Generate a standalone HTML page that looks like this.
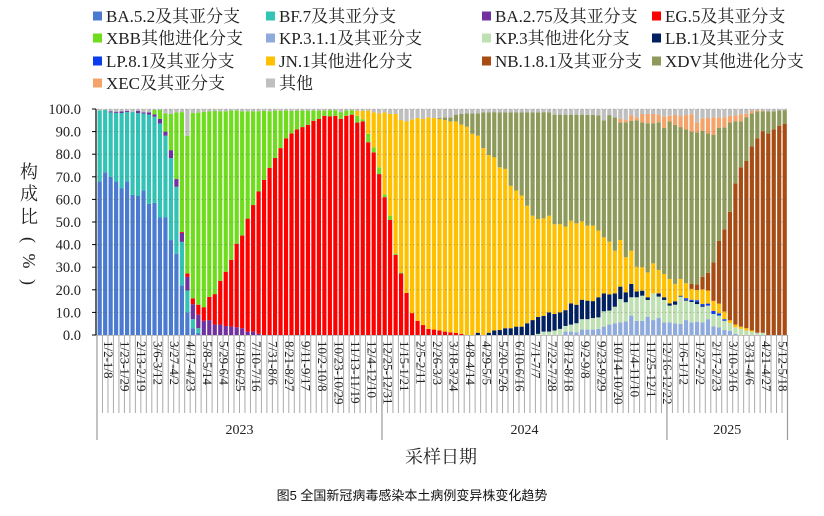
<!DOCTYPE html>
<html><head><meta charset="utf-8"><style>
html,body{margin:0;padding:0;background:#fff;}
svg{display:block;font-family:"Liberation Serif","Noto Serif CJK SC",serif;}
</style></head><body>
<svg id="chart" width="824" height="516" viewBox="0 0 824 516" xmlns="http://www.w3.org/2000/svg">
<g id="legend"></g>
<g id="xaxis"></g>
<g id="bars"></g>
<g id="grid"></g>
<g id="yaxis"></g>
<g font-size="18" fill="#222" text-anchor="middle">
<text x="29" y="178">构</text><text x="29" y="200">成</text><text x="29" y="223">比</text>
<text x="29" y="240" transform="rotate(90 29 240)" dy="6">(</text>
<text x="29" y="261" transform="rotate(90 29 261)" dy="6">%</text>
<text x="29" y="282" transform="rotate(90 29 282)" dy="6">)</text>
</g>
<text x="441" y="463" font-size="18" text-anchor="middle" fill="#222">采样日期</text>
<text x="412" y="500" font-size="13" text-anchor="middle" fill="#111" font-family="'Liberation Sans','Noto Sans CJK SC',sans-serif">图5 全国新冠病毒感染本土病例变异株变化趋势</text>
</svg>
<script>
const seriesNames=["BA.5.2及其亚分支","BF.7及其亚分支","BA.2.75及其亚分支","EG.5及其亚分支","XBB其他进化分支","KP.3.1.1及其亚分支","KP.3其他进化分支","LB.1及其亚分支","LP.8.1及其亚分支","JN.1其他进化分支","NB.1.8.1及其亚分支","XDV其他进化分支","XEC及其亚分支","其他"];
const BA52=[68,72,70,68,65,68,62,61.5,64,58, 58.5,52,52,42,36,22,10,3,1,0, 0,0,0,0,0,0,0,0,0,0, 0,0,0,0,0,0,0,0,0,0, 0,0,0,0,0,0,0,0,0,0, 0,0,0,0,0,0,0,0,0,0, 0,0,0,0,0,0,0,0,0,0, 0,0,0,0,0,0,0,0,0,0, 0,0,0,0,0,0,0,0,0,0, 0,0,0,0,0,0,0,0,0,0, 0,0,0,0,0,0,0,0,0,0, 0,0,0,0,0,0,0,0,0,0, 0,0,0,0,0,0];
const BF7=[31.3,27.6,28.5,30.3,33.2,30.7,36.8,36.7,34,39.5, 38.1,41.6,36.2,36.3,29.6,19.2,9.7,4,2,0, 0,0,0,0,0,0,0,0,0,0, 0,0,0,0,0,0,0,0,0,0, 0,0,0,0,0,0,0,0,0,0, 0,0,0,0,0,0,0,0,0,0, 0,0,0,0,0,0,0,0,0,0, 0,0,0,0,0,0,0,0,0,0, 0,0,0,0,0,0,0,0,0,0, 0,0,0,0,0,0,0,0,0,0, 0,0,0,0,0,0,0,0,0,0, 0,0,0,0,0,0,0,0,0,0, 0,0,0,0,0,0];
const BA275=[0,0,.5,.5,.7,.5,0,1,.5,1, 1,2,1.8,3.5,3.4,4,6,6.6,6,6.3, 6.6,4.6,4.6,4,3.8,3.4,3,1.5,1.5,.5, 0,0,0,0,0,0,0,0,0,0, 0,0,0,0,0,0,0,0,0,0, 0,0,0,0,0,0,0,0,0,0, 0,0,0,0,0,0,0,0,0,0, 0,0,0,0,0,0,0,0,0,0, 0,0,0,0,0,0,0,0,0,0, 0,0,0,0,0,0,0,0,0,0, 0,0,0,0,0,0,0,0,0,0, 0,0,0,0,0,0,0,0,0,0, 0,0,0,0,0,0];
const EG5=[0,0,0,0,0,0,0,0,0,0, 0,0,0,0,0,.4,1.5,2.6,4.4,6, 10.3,13.5,19.4,24,29.5,37,41,50,56,63, 68.7,74,78.3,82.7,87,89.2,91,92,93,94.8, 95.6,97,96.7,97,95.6,97,97.5,94,94.5,85.3, 80.8,71.2,61,51,35.5,27.3,18.6,9.7,6.3,4.4, 2.7,2.4,2,1.5,1.2,.9,.5,0,0,0, 0,0,0,0,0,0,0,0,0,0, 0,0,0,0,0,0,0,0,0,0, 0,0,0,0,0,0,0,0,0,0, 0,0,0,0,0,0,0,0,0,0, 0,0,0,0,0,0,0,0,0,0, 0,0,0,0,0,0];
const XBB=[0,0,0,0,0,0,0,0,0,0, 2,4,8,16,29.5,53,61,82,85,86.5, 82,81,75,71,66,59,55,47.5,41.5,35.5, 30.5,25,21,16.5,12.3,10,8.3,7.3,6.3,4.5, 3.7,2.3,2.8,2.4,3,2.3,2,3,1,3.7, 2.2,3,1.2,1.8,.5,.4,0,0,0,0, 0,0,0,0,0,0,0,0,0,0, 0,0,0,0,0,0,0,0,0,0, 0,0,0,0,0,0,0,0,0,0, 0,0,0,0,0,0,0,0,0,0, 0,0,0,0,0,0,0,0,0,0, 0,0,0,0,0,0,0,0,0,0, 0,0,0,0,0,0];
const KP311=[0,0,0,0,0,0,0,0,0,0, 0,0,0,0,0,0,0,0,0,0, 0,0,0,0,0,0,0,0,0,0, 0,0,0,0,0,0,0,0,0,0, 0,0,0,0,0,0,0,0,0,0, 0,0,0,0,0,0,0,0,0,0, 0,0,0,0,0,0,0,0,0,0, 0,0,0,0,0,0,0,0,0,0, 0,0,0,0,0,1.5,1.5,1.2,2.4,2.4, 2.4,2.7,3.7,4.6,5.2,5.6,6,8.6,6.3,6.3, 8.1,6.6,7.5,5.6,5.6,5.2,4.9,6.6,5.6,5.9, 5.6,7,3.8,3.4,2.2,1.9,.5,0,0,0, 0,0,0,0,0,0];
const KP3=[0,0,0,0,0,0,0,0,0,0, 0,0,0,0,0,0,0,0,0,0, 0,0,0,0,0,0,0,0,0,0, 0,0,0,0,0,0,0,0,0,0, 0,0,0,0,0,0,0,0,0,0, 0,0,0,0,0,0,0,0,0,0, 0,0,0,0,0,0,0,0,0,0, 0,0,0,0,0,0,0,0,0,0, .5,1.5,1.5,2,2.7,2.5,3.1,4,4.6,4.6, 5.1,5.1,6.8,6.2,7.3,10.3,8.5,8.1,10.4,11.1, 7.4,11.8,9.5,9.9,7.4,8.2,12.1,8.6,9,7.8, 6.9,6,5.5,5.2,4.1,3.4,2.9,2.7,2,1.5, 1,1,0,0,0,0];
const LB1=[0,0,0,0,0,0,0,0,0,0, 0,0,0,0,0,0,0,0,0,0, 0,0,0,0,0,0,0,0,0,0, 0,0,0,0,0,0,0,0,0,0, 0,0,0,0,0,0,0,0,0,0, 0,0,0,0,0,0,0,0,0,0, 0,0,0,0,0,0,0,0,0,1, 0,1,2,2.2,3,3,3.7,3.7,5.2,6.6, 7.5,7,8.5,7.3,7.3,7,9.4,8.2,8.6,8.2, 7.5,8.9,7.9,7.2,5.9,5.5,4.4,5.9,2.6,2.2, 1.2,0,1.4,1.2,1,1.5,.4,.4,.5,1, .5,0,0,0,0,0,0,0,0,0, 0,0,0,0,0,0];
const LP81=[0,0,0,0,0,0,0,0,0,0, 0,0,0,0,0,0,0,0,0,0, 0,0,0,0,0,0,0,0,0,0, 0,0,0,0,0,0,0,0,0,0, 0,0,0,0,0,0,0,0,0,0, 0,0,0,0,0,0,0,0,0,0, 0,0,0,0,0,0,0,0,0,0, 0,0,0,0,0,0,0,0,0,0, 0,0,0,0,0,0,0,0,0,0, 0,0,0,0,0,0,0,0,0,0, 0,0,0,0,0,0,0,.7,.5,.7, .7,.9,1.4,1,.7,0,0,0,0,0, 0,0,0,0,0,0];
const JN1=[0,0,0,0,0,0,0,0,0,0, 0,0,0,0,0,0,0,0,0,0, 0,0,0,0,0,0,0,0,0,0, 0,0,0,0,0,0,0,0,0,0, 0,0,0,0,0,0,0,2.2,3.7,10.3, 15.5,23.8,36.3,45,61.8,67.4,75.9,85.6,89.7,91.2, 93.6,93.6,93.6,93.6,93.3,93.6,92.6,92.2,89,87.2, 82.7,78.6,76.6,72,70.5,63,60.2,58,52,46.2, 43.3,43.1,42.8,39.7,39,37,36.6,36,34.7,33.2, 33.4,29.5,24.8,23.3,18.9,20.6,15.5,14.7,10.9,10.4, 11,13.3,10.4,10.3,10.8,7.7,7.4,6.6,4.8,4.5, 6.5,5.8,4.4,4.3,3.4,1.2,1.2,1,1,.5, 0,0,0,0,0,0];
const NB181=[0,0,0,0,0,0,0,0,0,0, 0,0,0,0,0,0,0,0,0,0, 0,0,0,0,0,0,0,0,0,0, 0,0,0,0,0,0,0,0,0,0, 0,0,0,0,0,0,0,0,0,0, 0,0,0,0,0,0,0,0,0,0, 0,0,0,0,0,0,0,0,0,0, 0,0,0,0,0,0,0,0,0,0, 0,0,0,0,0,0,0,0,0,0, 0,0,0,0,0,0,0,0,0,0, 0,0,0,0,0,0,0,0,2.2,2.4, 5.6,7.8,17,27.7,36.4,48,62.5,70.5,74,81.5, 86,89.2,89.2,91,92.6,93.5];
const XDV=[0,0,0,0,0,0,0,0,0,0, 0,0,0,0,0,0,0,0,0,0, 0,0,0,0,0,0,0,0,0,0, 0,0,0,0,0,0,0,0,0,0, 0,0,0,0,0,0,0,0,0,0, 0,0,0,0,0,0,0,0,0,0, 0,0,.5,1.2,1.8,3,4.7,5.8,9,9.8, 15.8,18.9,20,24.3,25,32.5,34.6,36.8,41.3,45.7, 47.2,47,45.7,48.5,48.5,49.5,46.9,48.1,47.2,49, 49,51,51.8,56,59,52.1,59.7,57.4,64.8,64.1, 66,62,65.3,64.6,69.7,70.4,67.2,68.1,67.4,67.4, 64.6,61.7,56.4,50,45.1,39.5,27.5,20.3,19.4,14.6, 12,8.8,9.8,8,6.8,6];
const XEC=[0,0,0,0,0,0,0,0,0,0, 0,0,0,0,0,0,0,0,0,0, 0,0,0,0,0,0,0,0,0,0, 0,0,0,0,0,0,0,0,0,0, 0,0,0,0,0,0,0,0,0,0, 0,0,0,0,0,0,0,0,0,0, 0,0,0,0,0,0,0,0,0,0, 0,0,0,0,0,0,0,0,0,0, 0,0,0,0,0,0,0,0,0,0, 0,0,0,0,0,1.5,1,2.6,1.2,3.7, 4.1,4.1,3.4,5,2.5,4.4,4.9,6.3,7.7,4.4, 5.5,6.8,7.8,4.7,4.4,3,2.5,3.2,1.5,1, .5,.3,0,0,0,0];
const xTickLabels=["1/2-1/8","1/23-1/29","2/13-2/19","3/6-3/12","3/27-4/2","4/17-4/23","5/8-5/14","5/29-6/4","6/19-6/25","7/10-7/16","7/31-8/6","8/21-8/27","9/11-9/17","10/2-10/8","10/23-10/29","11/13-11/19","12/4-12/10","12/25-12/31","1/15-1/21","2/5-2/11","2/26-3/3","3/18-3/24","4/8-4/14","4/29-5/5","5/20-5/26","6/10-6/16","7/1-7/7","7/22-7/28","8/12-8/18","9/2-9/8","9/23-9/29","10/14-10/20","11/4-11/10","11/25-12/1","12/16-12/22","1/6-1/12","1/27-2/2","2/17-2/23","3/10-3/16","3/31-4/6","4/21-4/27","5/12-5/18"];
const yTickLabels=["0.0","10.0","20.0","30.0","40.0","50.0","60.0","70.0","80.0","90.0","100.0"];
const yearLabels=["2023","2024","2025"];
const yearStarts=[0,52,104];

const colors=["#4a7bd0","#33c3b5","#7030a0","#ff0000","#6fdc1e","#8faadc","#bfe0b2","#002060","#0a3cf0","#ffc000","#a84c14","#8e9a5a","#f4a46a","#bfbfbf"];
const data=[BA52,BF7,BA275,EG5,XBB,KP311,KP3,LB1,LP81,JN1,NB181,XDV,XEC];
const N=BA52.length;
const PL=97,PR=787.5,PT=109,PB=335;
const bw=(PR-PL)/N;
function xPos(i){return PL+i*bw;}
function yPos(v){return PB-(v/100)*(PB-PT);}
const NS="http://www.w3.org/2000/svg";
function mk(tag,attrs,parent){const e=document.createElementNS(NS,tag);for(const k in attrs)e.setAttribute(k,attrs[k]);parent.appendChild(e);return e;}

const gBars=document.getElementById('bars');
const bgr=mk('rect',{x:PL,y:PT,width:PR-PL,height:PB-PT,fill:"#fff"},gBars);


for(let i=0;i<N;i++){
  let cum=0;
  const vals=data.map(a=>a[i]||0);
  const sum=vals.reduce((a,b)=>a+b,0);
  vals.push(Math.max(0,100-sum));
  for(let s=0;s<vals.length;s++){
    const v=vals[s]; if(v<=0){continue;}
    const y0=yPos(cum), y1=yPos(cum+v);
    const r=mk('rect',{x:(xPos(i)+0.6).toFixed(2),y:y1.toFixed(2),width:(bw-1.3).toFixed(2),height:(y0-y1).toFixed(2),fill:colors[s]},gBars);
    
    
    cum+=v;
  }
}
const gGrid=document.getElementById('grid');
for(let k=1;k<yTickLabels.length;k++){
  const y=yPos(k*10);
  const l=mk('line',{x1:PL,x2:PR,y1:y,y2:y,stroke:"#555",'stroke-opacity':"0.25",'stroke-dasharray':"2,2"},gGrid);
  
  
}
const gY=document.getElementById('yaxis');
const ax=mk('line',{x1:96,x2:96,y1:PT,y2:PB,stroke:"#000",'stroke-width':"1.2"},gY);


yTickLabels.forEach((t,k)=>{
  const y=yPos(k*10);
  const tk=mk('line',{x1:92,x2:96,y1:y,y2:y,stroke:"#000"},gY);
  
  
  const tx=mk('text',{x:81,y:y+5,'font-size':"14.5",'text-anchor':"end",fill:"#222"},gY);
  tx.textContent=t;
  
  
});
const gX=document.getElementById('xaxis');
const xl=mk('line',{x1:96,x2:PR,y1:PB,y2:PB,stroke:"#888"},gX);


for(let i=0;i<=N;i++){
  const x=xPos(i);
  const t=mk('line',{x1:x,x2:x,y1:PB,y2:413,stroke:"#aaa",'stroke-width':"1"},gX);
  
  
}
xTickLabels.forEach((lab,k)=>{
  const i=k*3;
  const cx=xPos(i)+bw/2;
  const tx=mk('text',{x:cx,y:341,'font-size':"13",fill:"#222",transform:`rotate(90 ${cx} 341)`,dy:"-4.5"},gX);
  tx.textContent=lab;
  
  
});
const yearEnds=[yearStarts[1],yearStarts[2],N];
yearStarts.forEach((s,k)=>{
  const x=xPos(s);
  const d=mk('line',{x1:x,x2:x,y1:PB,y2:440,stroke:"#999",'stroke-width':"1.2"},gX);
  
  
  const cx=(xPos(s)+xPos(yearEnds[k]))/2;
  const tx=mk('text',{x:cx,y:434,'font-size':"14",'text-anchor':"middle",fill:"#222"},gX);
  tx.textContent=yearLabels[k];
  
  
});
const dEnd=mk('line',{x1:PR,x2:PR,y1:PB,y2:440,stroke:"#999",'stroke-width':"1.2"},gX);



const gL=document.getElementById('legend');
const colX=[93,266,482,652], rowY=[16,38,61,83];
seriesNames.forEach((n,k)=>{
  const cx=colX[k%4], cy=rowY[Math.floor(k/4)];
  const g=mk('g',{},gL);
  
  
  mk('rect',{x:cx,y:cy-4.5,width:9,height:9,fill:colors[k]},g);
  const t=mk('text',{x:cx+13,y:cy+6,'font-size':"17",fill:"#222"},g);
  t.textContent=n;
});
</script>
</body></html>
